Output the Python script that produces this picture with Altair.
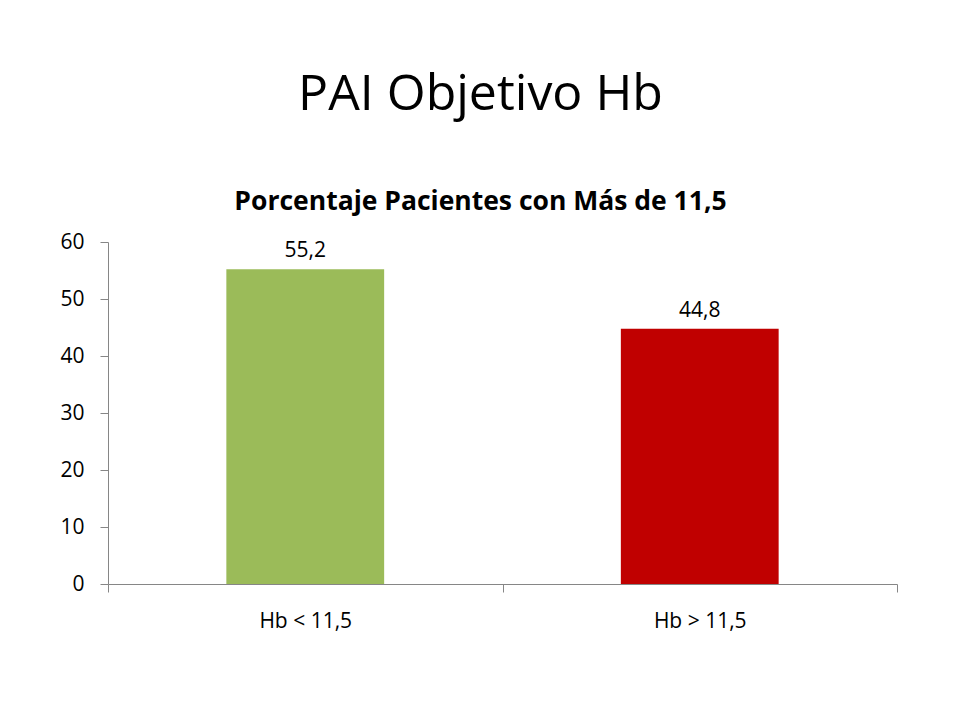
import altair as alt
import pandas as pd

categories = ["Hb < 11,5", "Hb > 11,5"]
values = [55.2, 44.8]
colors = ["#9BBB59", "#C00000"]

df = pd.DataFrame({"cat": categories, "value": values, "color": colors})

FONT = "Open Sans"
AXIS_GRAY = "#868686"
LBL = 21

x_enc = alt.X(
    "cat:N",
    sort=categories,
    scale=alt.Scale(paddingInner=0, paddingOuter=0),
    axis=alt.Axis(
        title=None,
        grid=False,
        labelAngle=0,
        labelFont=FONT,
        labelFontSize=LBL,
        labelColor="#000000",
        labelPadding=18,
        domainColor=AXIS_GRAY,
        tickColor=AXIS_GRAY,
        tickSize=8,
        tickBand="extent",
    ),
)

y_enc = alt.Y(
    "value:Q",
    scale=alt.Scale(domain=[0, 60]),
    axis=alt.Axis(
        title=None,
        values=[0, 10, 20, 30, 40, 50, 60],
        grid=False,
        labelFont=FONT,
        labelFontSize=LBL,
        labelColor="#000000",
        labelPadding=16,
        domainColor=AXIS_GRAY,
        tickColor=AXIS_GRAY,
        tickSize=8,
    ),
)

base = alt.Chart(df).encode(x=x_enc, y=y_enc)

bars = base.mark_bar(width={"band": 0.4}).encode(
    color=alt.Color("color:N", scale=None, legend=None),
)

labels = base.transform_calculate(
    lbl="replace(format(datum.value, '.1f'), '.', ',')"
).mark_text(font=FONT, fontSize=LBL, color="#000000", baseline="bottom", dy=-8).encode(
    text="lbl:N",
)

chart = (
    alt.layer(bars, labels)
    .properties(
        width=789,
        height=342,
        background="white",
        padding={"left": 100, "top": 234, "right": 47, "bottom": 110},
        autosize=alt.AutoSizeParams(type="none"),
        title=alt.TitleParams(
            text="PAI Objetivo Hb",
            subtitle="Porcentaje Pacientes con Más de 11,5",
            anchor="middle",
            frame="group",
            dx=-22,
            font=FONT,
            fontSize=50,
            fontWeight="normal",
            color="#000000",
            subtitleFont=FONT,
            subtitleFontSize=26.5,
            subtitleFontWeight="bold",
            subtitleColor="#000000",
            subtitlePadding=69,
            offset=16,
        ),
    )
    .configure_view(strokeWidth=0, stroke=None)
    .configure_axis(grid=False)
)

chart.save("out.html", embed_options={"renderer": "svg", "actions": False})
